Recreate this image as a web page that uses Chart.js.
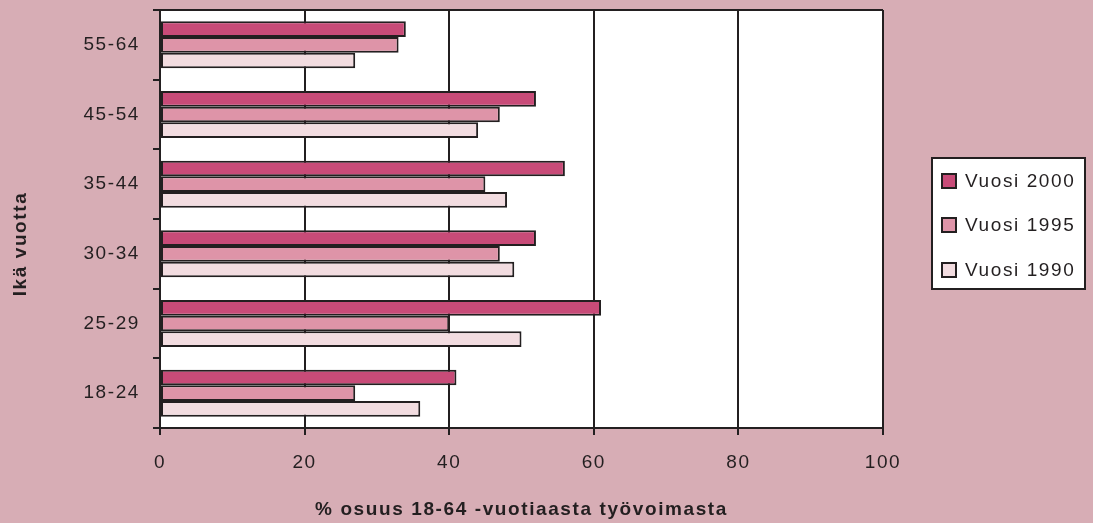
<!DOCTYPE html>
<html lang="fi">
<head>
<meta charset="utf-8">
<title>Ikä vuotta</title>
<script src="https://cdn.jsdelivr.net/npm/chart.js@4.4.1/dist/chart.umd.min.js"></script>
<style>
    body { margin: 0; background: #d7adb5; }
    canvas { display: block; }
</style>
</head>
<body>
<canvas id="grafiikka" width="1093" height="523"></canvas>
<script>
// ikäryhmät ylhäältä alas
const ikaryhmat = ["55-64", "45-54", "35-44", "30-34", "25-29", "18-24"];

const vuosi2000 = [34, 52, 56, 52, 61, 41];
const vuosi1995 = [33, 47, 45, 47, 40, 27];
const vuosi1990 = [27, 44, 48, 49, 50, 36];

const sarjaNimet = ["Vuosi 2000", "Vuosi 1995", "Vuosi 1990"];
const xTicks = [0, 20, 40, 60, 80, 100];

const xOtsikko = "% osuus 18-64 -vuotiaasta työvoimasta";
const yOtsikko = "Ikä vuotta";

const tumma = "#231f20";
const fontti = "'Liberation Sans', Arial, Helvetica, sans-serif";
const vali = "1.6px";

// kirjainväli canvasille + valkoinen piirtoalue
const kirjainvali = {
    id: "kirjainvali",
    beforeLayout(chart) { chart.ctx.letterSpacing = vali; },
    beforeDraw(chart) {
        const c = chart.ctx;
        const a = chart.chartArea;
        c.letterSpacing = vali;
        c.save();
        c.fillStyle = "#ffffff";
        c.fillRect(a.left, a.top, a.right - a.left, a.bottom - a.top);
        c.restore();
    }
};

// oma selite laatikossa + pystyotsikko
const selite = {
    id: "selite",
    afterDraw(chart) {
        const ctx = chart.ctx;
        ctx.save();
        ctx.letterSpacing = vali;

        ctx.fillStyle = "#ffffff";
        ctx.fillRect(932, 158, 153, 131);
        ctx.strokeStyle = tumma;
        ctx.lineWidth = 2;
        ctx.strokeRect(932, 158, 153, 131);

        const rivit = [181, 225, 270];
        ctx.font = "19px " + fontti;
        ctx.textBaseline = "middle";
        ctx.textAlign = "left";
        chart.data.datasets.forEach((ds, i) => {
            const y = rivit[i];
            ctx.fillStyle = ds.backgroundColor;
            ctx.fillRect(942, y - 7, 14, 14);
            ctx.strokeStyle = tumma;
            ctx.lineWidth = 2;
            ctx.strokeRect(942, y - 7, 14, 14);
            ctx.fillStyle = tumma;
            ctx.fillText(ds.label, 965, y + 1);
        });

        ctx.font = "bold 19px " + fontti;
        ctx.translate(21, 244);
        ctx.rotate(-Math.PI / 2);
        ctx.textAlign = "center";
        ctx.fillText(yOtsikko, 0, 0);
        ctx.restore();
    }
};

const ctx = document.getElementById("grafiikka").getContext("2d");

new Chart(ctx, {
    type: "bar",
    data: {
        labels: ikaryhmat,
        datasets: [
            { label: sarjaNimet[0], data: vuosi2000, backgroundColor: "#c84b78" },
            { label: sarjaNimet[1], data: vuosi1995, backgroundColor: "#de94a8" },
            { label: sarjaNimet[2], data: vuosi1990, backgroundColor: "#f2dce0" }
        ]
    },
    options: {
        indexAxis: "y",
        responsive: false,
        devicePixelRatio: 1,
        animation: false,
        layout: { padding: { top: 10, right: 210, left: 0, bottom: 0 } },
        datasets: {
            bar: {
                borderColor: tumma,
                borderWidth: 2,
                borderSkipped: false,
                barPercentage: 1,
                categoryPercentage: 0.675
            }
        },
        plugins: {
            legend: { display: false },
            tooltip: { enabled: false }
        },
        scales: {
            x: {
                min: 0,
                max: 100,
                afterBuildTicks: scale => {
                    scale.ticks = xTicks.map(v => ({ value: v }));
                },
                afterFit: scale => { scale.height = 95; },
                grid: {
                    color: tumma,
                    tickColor: tumma,
                    lineWidth: 2,
                    tickLength: 7
                },
                border: { color: tumma, width: 2 },
                ticks: {
                    color: tumma,
                    padding: 16,
                    font: { family: fontti, size: 19 }
                },
                title: {
                    display: true,
                    text: xOtsikko,
                    color: tumma,
                    padding: { top: 0, bottom: 2 },
                    font: { family: fontti, size: 19, weight: "bold", lineHeight: 1.2 }
                }
            },
            y: {
                afterFit: scale => {
                    scale.width = 160;
                    scale.paddingTop = 0;
                    scale.paddingBottom = 0;
                },
                grid: {
                    offset: true,
                    color: c => (c.index === 0 ? tumma : "rgba(0,0,0,0)"),
                    tickColor: tumma,
                    lineWidth: 2,
                    tickLength: 7
                },
                border: { color: tumma, width: 2 },
                ticks: {
                    color: tumma,
                    padding: 13,
                    font: { family: fontti, size: 19 }
                }
            }
        }
    },
    plugins: [kirjainvali, selite]
});
</script>
</body>
</html>
